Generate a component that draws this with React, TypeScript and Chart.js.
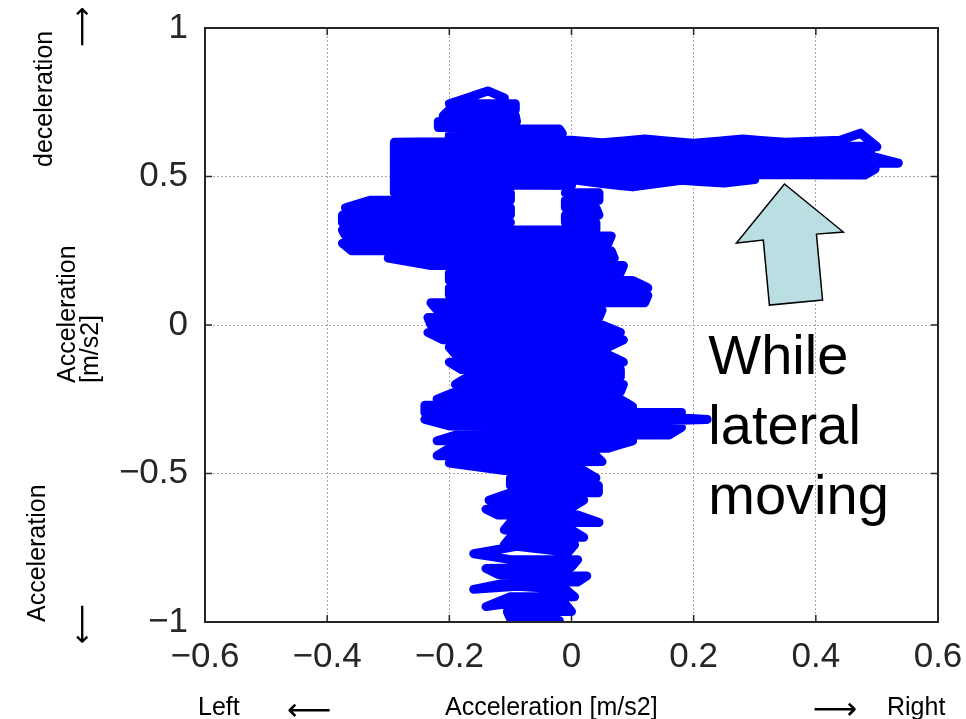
import React, { useEffect, useRef } from 'react';
import { Chart, registerables } from 'chart.js';

Chart.register(...registerables);

// Axis ticks
const xTicks = [-0.6, -0.4, -0.2, 0, 0.2, 0.4, 0.6];
const yTicks = [-1, -0.5, 0, 0.5, 1];

// Trace: [lateral acceleration, longitudinal acceleration] in m/s2, in recorded order
const stemTrace: [number, number][] = [
  [-0.02, -0.995], [-0.10, -0.99],
  [-0.105, -0.965], [0.0, -0.965],
  [-0.01, -0.94], [-0.09, -0.935], [-0.14, -0.948],
  [-0.10, -0.915], [0.005, -0.915],
  [-0.01, -0.89], [-0.09, -0.88], [-0.16, -0.89],
  [-0.10, -0.865], [0.01, -0.865],
  [0.025, -0.845], [-0.12, -0.84],
  [-0.14, -0.82], [0.0, -0.815],
  [0.01, -0.79], [-0.10, -0.79],
  [-0.16, -0.77], [-0.09, -0.745], [-0.005, -0.765],
  [0.005, -0.74], [-0.11, -0.74],
  [-0.10, -0.715], [0.02, -0.715],
  [0.0, -0.69], [-0.11, -0.69],
  [-0.10, -0.665], [0.045, -0.665],
  [0.01, -0.64], [-0.12, -0.64],
  [-0.14, -0.62], [0.0, -0.615],
  [0.02, -0.59], [-0.135, -0.59],
  [-0.10, -0.565], [0.044, -0.565],
  [0.044, -0.54], [-0.10, -0.54],
  [-0.10, -0.515], [0.04, -0.515],
  [0.02, -0.49], [-0.11, -0.49],
];

const middleTrace: [number, number][] = [
  [-0.20, -0.465], [0.05, -0.46],
  [0.04, -0.44], [-0.22, -0.44],
  [-0.20, -0.415], [0.06, -0.415],
  [0.10, -0.39], [-0.22, -0.39],
  [-0.18, -0.365], [0.16, -0.37],
  [0.18, -0.345], [-0.20, -0.34],
  [-0.24, -0.318], [0.10, -0.325], [0.222, -0.318], [0.12, -0.305],
  [0.18, -0.295], [-0.24, -0.295],
  [-0.24, -0.27], [0.10, -0.275],
  [0.08, -0.25], [-0.22, -0.25],
  [-0.19, -0.225], [0.08, -0.225],
];

const bodyTrace: [number, number][] = [
  [0.085, -0.20], [-0.19, -0.20],
  [-0.17, -0.175], [0.08, -0.175],
  [0.08, -0.15], [-0.18, -0.15],
  [-0.20, -0.125], [0.085, -0.125],
  [0.06, -0.10], [-0.19, -0.10],
  [-0.20, -0.075], [0.06, -0.075],
  [0.085, -0.05], [-0.21, -0.05],
  [-0.235, -0.025], [0.08, -0.025],
  [0.05, 0.0], [-0.23, 0.0],
  [-0.235, 0.025], [0.045, 0.025],
  [0.05, 0.05], [-0.22, 0.05],
  [-0.23, 0.075], [0.12, 0.075],
  [0.125, 0.10], [-0.20, 0.10],
  [-0.20, 0.125], [0.125, 0.125],
  [0.10, 0.15], [-0.20, 0.15],
  [-0.20, 0.175], [0.08, 0.175],
  [0.085, 0.20], [-0.23, 0.20],
  [-0.30, 0.225], [0.07, 0.225],
  [0.065, 0.25], [-0.36, 0.25],
  [-0.375, 0.275], [0.06, 0.275],
  [0.065, 0.30], [-0.37, 0.30],
  [-0.375, 0.32], [0.04, 0.32],
];

const rightOfGapTrace: [number, number][] = [
  [0.04, 0.345], [-0.01, 0.345],
  [-0.01, 0.37], [0.045, 0.37],
  [0.04, 0.395], [-0.01, 0.395],
  [-0.01, 0.42], [0.045, 0.42],
  [0.045, 0.445], [-0.01, 0.445],
];

const lateralTrace: [number, number][] = [
  [0.0, 0.47], [-0.29, 0.475],
  [-0.29, 0.495], [0.30, 0.49],
  [0.25, 0.478], [0.18, 0.487], [0.10, 0.465], [0.05, 0.476], [0.0, 0.49],
  [-0.29, 0.51], [0.48, 0.505],
  [0.497, 0.525], [-0.28, 0.525],
  [-0.29, 0.545], [0.535, 0.545],
  [0.497, 0.565], [-0.29, 0.565],
  [-0.29, 0.585], [0.49, 0.585],
  [0.49, 0.602], [-0.29, 0.605],
  [-0.29, 0.615], [0.0, 0.622], [0.05, 0.614], [0.12, 0.626], [0.20, 0.612],
  [0.28, 0.626], [0.35, 0.615], [0.44, 0.622], [0.473, 0.646], [0.50, 0.60],
  [0.30, 0.60], [-0.29, 0.61],
];

const leftArmTrace: [number, number][] = [
  [-0.29, 0.445], [-0.10, 0.445],
  [-0.10, 0.42], [-0.33, 0.42],
  [-0.37, 0.395], [-0.10, 0.395],
  [-0.10, 0.37], [-0.375, 0.37],
  [-0.375, 0.345], [-0.10, 0.345],
  [-0.20, 0.345],
];

const topTrace: [number, number][] = [
  [-0.20, 0.64], [-0.015, 0.645],
  [-0.02, 0.66], [-0.218, 0.665],
  [-0.218, 0.685], [-0.09, 0.685],
  [-0.092, 0.705], [-0.21, 0.705],
  [-0.20, 0.725], [-0.092, 0.725],
  [-0.092, 0.745], [-0.20, 0.745],
  [-0.17, 0.765], [-0.137, 0.788], [-0.11, 0.765],
];

// Annotation (data coordinates)
const arrowShape: [number, number][] = [
  [0.3486, 0.4747], [0.445, 0.313], [0.401, 0.306], [0.411, 0.084],
  [0.324, 0.067], [0.314, 0.286], [0.270, 0.276],
];
const noteLines = ['While', 'lateral', 'moving'];
const noteAnchor: [number, number] = [0.224, -0.165];

const fmt = (v: number) => (v === 0 ? '0' : (v < 0 ? '\u2212' : '') + String(Math.abs(v)));

const FONT = '"Liberation Sans", Arial, sans-serif';

const zeroPad = (s: any) => {
  s.paddingLeft = 0;
  s.paddingRight = 0;
  s.paddingTop = 0;
  s.paddingBottom = 0;
};

const decor = {
  id: 'decor',
  afterDatasetsDraw(chart: any) {
    const { ctx, chartArea: a, scales } = chart;
    const xs = scales.x;
    const ys = scales.y;
    ctx.save();
    // annotation arrow
    ctx.beginPath();
    arrowShape.forEach(([dx, dy], i) => {
      const px = xs.getPixelForValue(dx);
      const py = ys.getPixelForValue(dy);
      if (i) ctx.lineTo(px, py);
      else ctx.moveTo(px, py);
    });
    ctx.closePath();
    ctx.fillStyle = '#b9dfe3';
    ctx.fill();
    ctx.lineWidth = 1.5;
    ctx.strokeStyle = '#000';
    ctx.lineJoin = 'miter';
    ctx.stroke();

    // frame
    ctx.strokeStyle = '#262626';
    ctx.lineWidth = 2;
    ctx.strokeRect(a.left, a.top, a.right - a.left, a.bottom - a.top);
    // inner ticks
    ctx.lineWidth = 1.5;
    ctx.beginPath();
    const tl = 7;
    xTicks.forEach((v) => {
      const px = xs.getPixelForValue(v);
      ctx.moveTo(px, a.bottom); ctx.lineTo(px, a.bottom - tl);
      ctx.moveTo(px, a.top); ctx.lineTo(px, a.top + tl);
    });
    yTicks.forEach((v) => {
      const py = ys.getPixelForValue(v);
      ctx.moveTo(a.left, py); ctx.lineTo(a.left + tl, py);
      ctx.moveTo(a.right, py); ctx.lineTo(a.right - tl, py);
    });
    ctx.stroke();

    // note text
    ctx.fillStyle = '#000';
    ctx.font = `56px ${FONT}`;
    ctx.textAlign = 'left';
    ctx.textBaseline = 'alphabetic';
    const nx = xs.getPixelForValue(noteAnchor[0]);
    const ny = ys.getPixelForValue(noteAnchor[1]);
    noteLines.forEach((t, i) => ctx.fillText(t, nx, ny + i * 70));
    ctx.restore();
  },
  afterDraw(chart: any) {
    const { ctx } = chart;
    ctx.save();
    ctx.fillStyle = '#000';
    ctx.textAlign = 'left';
    ctx.textBaseline = 'alphabetic';
    ctx.font = `25px ${FONT}`;
    // bottom labels
    ctx.fillText('Left', 198, 715);
    ctx.fillText('Acceleration [m/s2]', 445, 715);
    ctx.fillText('Right', 887, 715);

    const arrow = (glyph: string, cx: number, cy: number, angle: number, size: number) => {
      ctx.save();
      ctx.translate(cx, cy);
      ctx.rotate(angle);
      ctx.font = `${size}px "DejaVu Sans", sans-serif`;
      ctx.textAlign = 'center';
      ctx.textBaseline = 'middle';
      ctx.fillText(glyph, 0, 0);
      ctx.restore();
    };
    arrow('\u27F5', 309, 712, 0, 31);
    arrow('\u27F6', 835, 711, 0, 31);
    arrow('\u27F6', 84, 27, -Math.PI / 2, 28);
    arrow('\u27F5', 84, 624, -Math.PI / 2, 28);

    // rotated left labels
    const rot = (text: string, bx: number, sy: number) => {
      ctx.save();
      ctx.translate(bx, sy);
      ctx.rotate(-Math.PI / 2);
      ctx.textAlign = 'left';
      ctx.textBaseline = 'alphabetic';
      ctx.font = `25px ${FONT}`;
      ctx.fillText(text, 0, 0);
      ctx.restore();
    };
    rot('deceleration', 52, 167);
    rot('Acceleration', 75, 383);
    rot('[m/s2]', 98, 383);
    rot('Acceleration', 45, 622);
    ctx.restore();
  },
};

export default function App() {
  const ref = useRef<HTMLCanvasElement>(null);
  useEffect(() => {
    if (!ref.current) return;
    const trace = [
      ...stemTrace, ...middleTrace, ...bodyTrace, ...rightOfGapTrace,
      ...lateralTrace, ...leftArmTrace, ...topTrace,
    ];
    const chart = new Chart(ref.current, {
      type: 'scatter',
      data: {
        datasets: [
          {
            data: trace.map(([x, y]) => ({ x, y })),
            showLine: true,
            borderColor: '#0000ff',
            backgroundColor: '#0000ff',
            borderWidth: 9,
            pointRadius: 0,
            pointHoverRadius: 0,
            borderJoinStyle: 'round',
            borderCapStyle: 'round',
            tension: 0.0001,
            capBezierPoints: false,
            clip: 0,
          } as any,
        ],
      },
      options: {
        responsive: false,
        animation: false,
        events: [],
        layout: { padding: { left: 0, right: 28, top: 28, bottom: 0 } },
        plugins: { legend: { display: false }, tooltip: { enabled: false } },
        scales: {
          x: {
            type: 'linear',
            min: -0.6,
            max: 0.6,
            afterBuildTicks: (s: any) => { s.ticks = xTicks.map((v) => ({ value: v })); },
            afterFit: (s: any) => { s.height = 97; zeroPad(s); },
            ticks: {
              callback: (v: any) => fmt(Number(v)),
              font: { family: FONT, size: 35 },
              color: '#262626',
              padding: 14,
              maxRotation: 0,
              autoSkip: false,
            },
            grid: { color: '#a8a8a8', lineWidth: 1, drawTicks: false },
            border: { display: false, dash: [2, 2] },
          },
          y: {
            type: 'linear',
            min: -1,
            max: 1,
            afterBuildTicks: (s: any) => { s.ticks = yTicks.map((v) => ({ value: v })); },
            afterFit: (s: any) => { s.width = 205; zeroPad(s); },
            ticks: {
              callback: (v: any) => fmt(Number(v)),
              font: { family: FONT, size: 35 },
              color: '#262626',
              padding: 17,
              autoSkip: false,
            },
            grid: { color: '#a8a8a8', lineWidth: 1, drawTicks: false },
            border: { display: false, dash: [2, 2] },
          },
        },
      },
      plugins: [decor],
    });
    return () => chart.destroy();
  }, []);
  return (
    <div style={{ position: 'fixed', left: 0, top: 0, width: 966, height: 719, background: '#fff' }}>
      <canvas ref={ref} width={966} height={719} style={{ width: 966, height: 719 }} />
    </div>
  );
}
